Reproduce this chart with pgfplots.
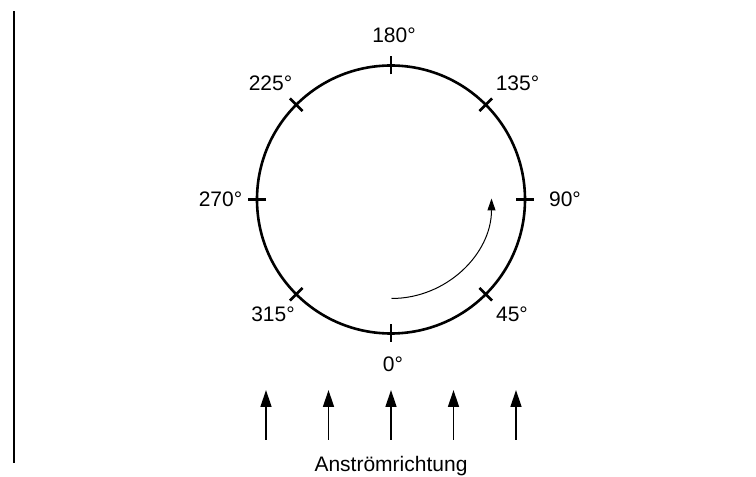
\documentclass[border=0pt]{standalone}
\usepackage{fontspec}
\setmainfont{Liberation Sans}
\usepackage{pgfplots}
\pgfplotsset{compat=1.18}
\usetikzlibrary{arrows.meta}
\begin{document}
\begin{tikzpicture}[lbl/.style={anchor=base, inner sep=0pt, font=\fontsize{21}{25}\selectfont}]
\begin{axis}[hide axis, scale only axis, width=756pt, height=476pt,
  xmin=0, xmax=756, ymin=0, ymax=476, clip=false]
\path (axis cs:0,0) rectangle (axis cs:756,476);
% left vertical line
\addplot[black, line width=2pt] coordinates {(14,13) (14,465.3)};
% circle
\draw[black, line width=2.6pt] (axis cs:391,276.5) circle[radius=134pt];
% tick marks
\addplot[black, line width=2.5pt] coordinates {(391,151.5) (391,133.5)};
\addplot[black, line width=2.5pt] coordinates {(479.39,188.11) (492.12,175.38)};
\addplot[black, line width=2.5pt] coordinates {(516,276.5) (534,276.5)};
\addplot[black, line width=2.5pt] coordinates {(479.39,364.89) (492.12,377.62)};
\addplot[black, line width=2.5pt] coordinates {(391,401.5) (391,419.5)};
\addplot[black, line width=2.5pt] coordinates {(302.61,364.89) (289.88,377.62)};
\addplot[black, line width=2.5pt] coordinates {(266,276.5) (248,276.5)};
\addplot[black, line width=2.5pt] coordinates {(302.61,188.11) (289.88,175.38)};
% angle labels
\node[lbl] at (axis cs:393,104) {0°};
\node[lbl] at (axis cs:512,154) {45°};
\node[lbl] at (axis cs:565,269) {90°};
\node[lbl] at (axis cs:517.5,385) {135°};
\node[lbl] at (axis cs:394,433) {180°};
\node[lbl] at (axis cs:270.5,385) {225°};
\node[lbl] at (axis cs:220.5,269) {270°};
\node[lbl] at (axis cs:273,154) {315°};
\node[lbl] at (axis cs:391,4.3) {Anströmrichtung};
% rotation arrow
\draw[black, line width=1pt, -{Triangle[length=12pt,width=8pt]}] (axis cs:391.5,177.5) arc[start angle=-90, end angle=0, radius=100pt];
% flow arrows
\addplot[black, line width=1.4pt, -{Triangle[length=17pt,width=11pt]}] coordinates {(266,36) (266,86)};
\addplot[black, line width=1.4pt, -{Triangle[length=17pt,width=11pt]}] coordinates {(328.5,36) (328.5,86)};
\addplot[black, line width=1.4pt, -{Triangle[length=17pt,width=11pt]}] coordinates {(391,36) (391,86)};
\addplot[black, line width=1.4pt, -{Triangle[length=17pt,width=11pt]}] coordinates {(453.5,36) (453.5,86)};
\addplot[black, line width=1.4pt, -{Triangle[length=17pt,width=11pt]}] coordinates {(516,36) (516,86)};
\end{axis}
\end{tikzpicture}
\end{document}
